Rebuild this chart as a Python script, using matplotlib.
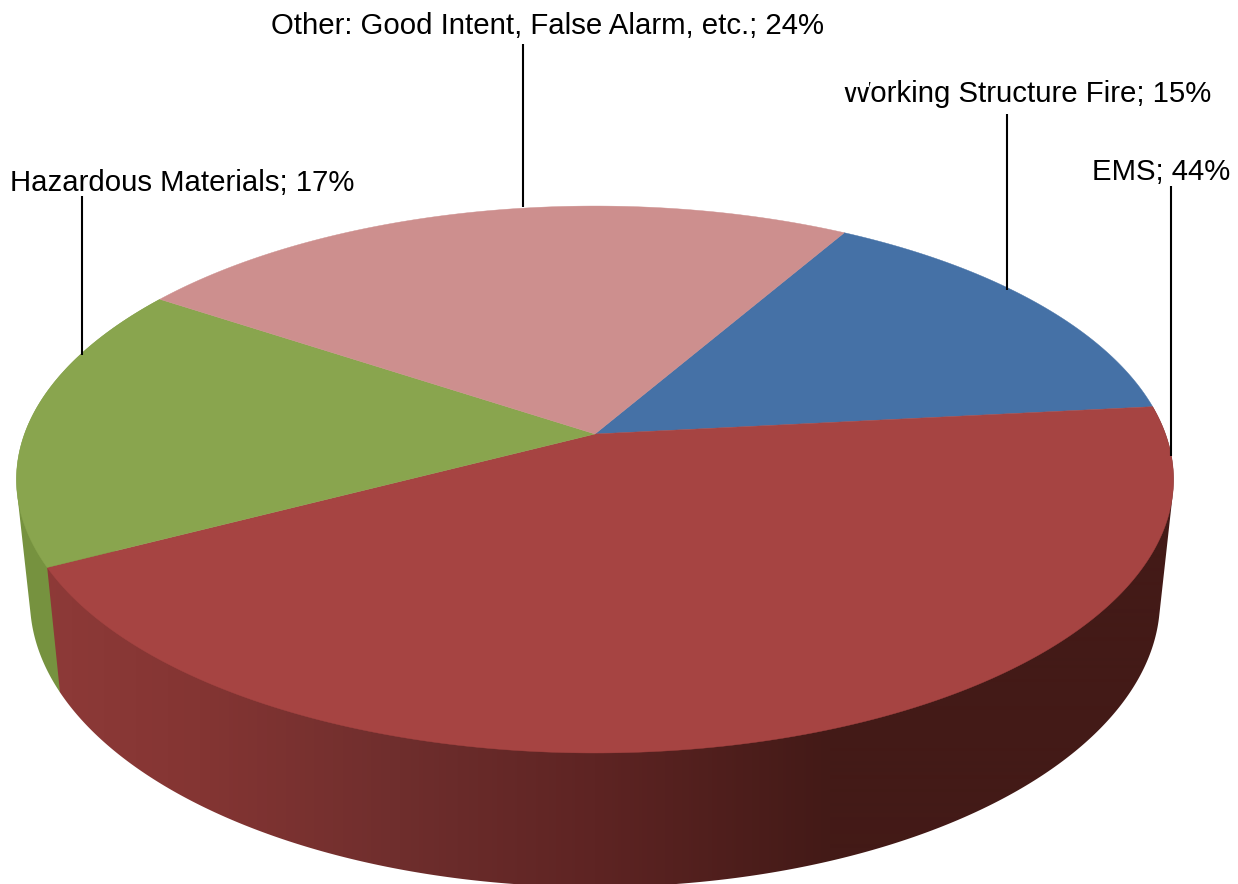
import numpy as np
import matplotlib
matplotlib.use("Agg")
import matplotlib.pyplot as plt
from matplotlib.patches import Polygon, Rectangle

categories = ["Working Structure Fire", "EMS", "Hazardous Materials", "Other: Good Intent, False Alarm, etc."]
values = [15, 44, 17, 24]
top_colors = ["#4571A6", "#A64442", "#89A54E", "#CD8F8E"]
green_side = "#76923F"

W, H = 1238, 884
start_deg = 60.0
CX, APEX_Y = 595.0, 434.0
K, A_TOP, B_TOP = 0.1664, 570.5, 265.9
TOP_SX, TOP_CY, TOP_SY = 578.5, 479.5, 273.5
BOT_SX, BOT_CY, BOT_SY = 565.0, 600.0, 287.0

grad_x = [40, 200, 400, 595, 830, 1238]
grad_c = [(0x8E, 0x3A, 0x38), (0x84, 0x35, 0x33), (0x6F, 0x2E, 0x2D), (0x5E, 0x24, 0x23), (0x43, 0x1A, 0x17), (0x43, 0x1A, 0x17)]

label_x = [843, 1092, 10, 271]
label_y = [102, 180, 191, 34]
leader_x = [1007, 1171, 82, 523]
leader_top = [114, 186, 196, 44]
leader_bot = [290, 456, 355, 207]


def top_rim(t):
    u, v = np.cos(t), np.sin(t)
    d = 1 + K * v
    return CX + A_TOP * u / d, APEX_Y - B_TOP * v / d


def bottom_rim(t):
    x, y = top_rim(t)
    return CX + BOT_SX * (x - CX) / TOP_SX, BOT_CY + BOT_SY * (y - TOP_CY) / TOP_SY


def convex_hull(pts):
    pts = sorted(map(tuple, pts))

    def half(seq):
        out = []
        for p in seq:
            while len(out) > 1 and (out[-1][0] - out[-2][0]) * (p[1] - out[-2][1]) - (out[-1][1] - out[-2][1]) * (p[0] - out[-2][0]) <= 0:
                out.pop()
            out.append(p)
        return out[:-1]

    return np.array(half(pts) + half(pts[::-1]))


def side_hull(t0, t1):
    ts = np.linspace(t0, t1, 400)
    xt, yt = top_rim(ts)
    xb, yb = bottom_rim(ts)
    return convex_hull(np.column_stack([np.r_[xt, xb], np.r_[yt, yb]]))


fig = plt.figure(figsize=(W / 100, H / 100), dpi=100, facecolor="white")
ax = fig.add_axes([0, 0, 1, 1])
ax.axis("off")

sweeps = np.radians(np.array(values) / sum(values) * 360.0)
edges = np.radians(start_deg) - np.concatenate([[0], np.cumsum(sweeps)])

# hidden green side, then the front side with its left-to-right shading
ax.add_patch(Polygon(side_hull(edges[2], edges[3]), closed=True, facecolor=green_side, edgecolor="none", zorder=2))

xs = np.arange(W) + 0.5
grad = np.stack([np.interp(xs, grad_x, [c[n] for c in grad_c]) / 255 for n in range(3)], axis=-1)[None, :, :]
img = ax.imshow(grad, extent=(0, W, H, 0), aspect="auto", interpolation="bilinear", zorder=3)
clip = Polygon(side_hull(edges[1], edges[2]), closed=True, transform=ax.transData, facecolor="none", edgecolor="none")
ax.add_patch(clip)
img.set_clip_path(clip)

# top face
for i in range(len(values)):
    ts = np.linspace(edges[i], edges[i + 1], 300)
    x, y = top_rim(ts)
    pts = np.column_stack([np.r_[CX, x], np.r_[APEX_Y, y]])
    ax.add_patch(Polygon(pts, closed=True, facecolor=top_colors[i], edgecolor=top_colors[i], linewidth=0.3, zorder=4))

# leader lines and labels
for i in range(len(values)):
    ax.plot([leader_x[i], leader_x[i]], [leader_top[i], leader_bot[i]], color="black", lw=1.5, zorder=5, solid_capstyle="butt")
    ax.text(label_x[i], label_y[i], f"{categories[i]}; {values[i]}%", family="Liberation Sans", fontsize=21.15,
            color="black", ha="left", va="baseline", zorder=6)

# the reference cuts off the upper part of the first letter of this label
ax.add_patch(Rectangle((838, 74), 30.5, 13, facecolor="white", edgecolor="none", zorder=7))

ax.set_xlim(0, W)
ax.set_ylim(H, 0)
fig.savefig("out.png", dpi=100, facecolor="white")
